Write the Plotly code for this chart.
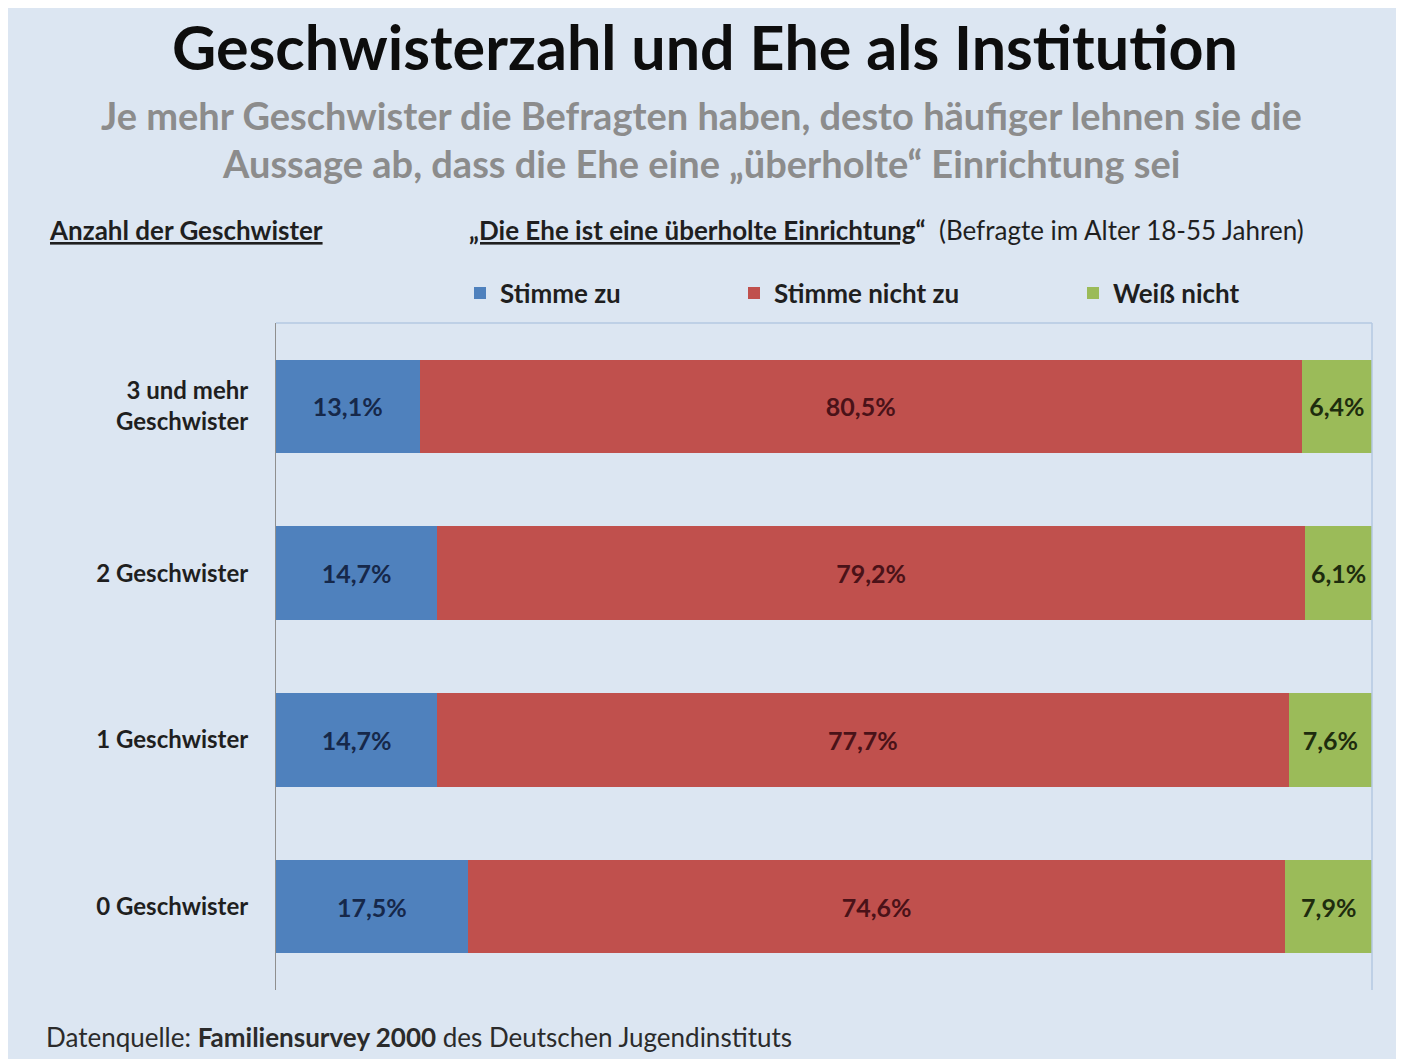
import plotly.graph_objects as go

categories = ["0 Geschwister", "1 Geschwister", "2 Geschwister", "3 und mehr<br>Geschwister"]
stimme_zu = [17.5, 14.7, 14.7, 13.1]
stimme_nicht_zu = [74.6, 77.7, 79.2, 80.5]
weiss_nicht = [7.9, 7.6, 6.1, 6.4]

series_names = ["Stimme zu", "Stimme nicht zu", "Weiß nicht"]
series_values = [stimme_zu, stimme_nicht_zu, weiss_nicht]
series_colors = ["#4f81bd", "#c0504d", "#9bbb59"]
label_colors = ["#16284a", "#4a1218", "#1e2c0e"]
legend_ids = ["legend", "legend2", "legend3"]

FONT = "Lato, 'Open Sans', sans-serif"
BG = "#dce6f2"

def fmt(v):
    return f"{v:.1f}".replace(".", ",") + "%"

fig = go.Figure()
for name, vals, col, lcol, lid in zip(series_names, series_values, series_colors, label_colors, legend_ids):
    fig.add_trace(go.Bar(
        y=categories, x=vals, name=name, orientation="h",
        marker=dict(color=col, line=dict(width=0)),
        text=[fmt(v) for v in vals], textposition="inside",
        insidetextanchor="middle",
        textfont=dict(family=FONT, size=25, color=lcol, weight="bold"),
        legend=lid,
    ))

# page offset (body margin) of the figure
OX, OY = 8, 8
W, H = 1392, 1051
L, R, T, B = 268, 28, 315, 69
pw, ph = W - L - R, H - T - B

def px_x(p):  # p in page pixels
    return (p - OX - L) / pw

def px_y(p):
    return 1 - (p - OY - T) / ph

leg_font = dict(family=FONT, size=26, color="#1f1f1f", weight="bold")
legend_common = dict(orientation="h", font=leg_font, bgcolor="rgba(0,0,0,0)",
                     xanchor="left", yanchor="middle", itemsizing="constant")

fig.update_layout(
    width=W, height=H,
    margin=dict(l=L, r=R, t=T, b=B),
    paper_bgcolor=BG,
    plot_bgcolor=BG,
    barmode="stack",
    bargap=0.44,
    showlegend=True,
    legend=dict(**legend_common, x=px_x(460), y=px_y(293)),
    legend2=dict(**legend_common, x=px_x(734), y=px_y(293)),
    legend3=dict(**legend_common, x=px_x(1073), y=px_y(293)),
    xaxis=dict(range=[0, 100], visible=False, fixedrange=True),
    yaxis=dict(
        range=[-0.5, 3.5], showgrid=False, zeroline=False,
        showline=True, linecolor="#8f8f8f", linewidth=1,
        ticks="", ticklabelstandoff=22,
        tickfont=dict(family=FONT, size=24, color="#1f1f1f", weight="bold"),
    ),
    font=dict(family=FONT),
)

# plot area frame (top and right)
fig.add_shape(type="line", xref="paper", yref="paper", x0=0, x1=1, y0=1, y1=1,
              line=dict(color="#b4c8e2", width=1.5))
fig.add_shape(type="line", xref="paper", yref="paper", x0=1, x1=1, y0=0, y1=1,
              line=dict(color="#b4c8e2", width=1.5))

def note(text, x, y, size, color, anchor="left"):
    return dict(text=text, x=px_x(x), y=px_y(y), xref="paper", yref="paper",
                xanchor=anchor, yanchor="middle", showarrow=False,
                font=dict(family=FONT, size=size, color=color))

ann = [
    note("<b>Geschwisterzahl und Ehe als Institution</b>", 705, 46, 61, "#0d0d0d", "center"),
    note("<b>Je mehr Geschwister die Befragten haben, desto häufiger lehnen sie die</b>", 701, 115, 38, "#8c8c8c", "center"),
    note("<b>Aussage ab, dass die Ehe eine „überholte“ Einrichtung sei</b>", 701, 163, 38, "#8c8c8c", "center"),
    note("<b><u>Anzahl der Geschwister</u></b>", 47, 230, 26, "#1f1f1f"),
    note("<b><u>„Die Ehe ist eine überholte Einrichtung</u>“</b>  (Befragte im Alter 18-55 Jahren)", 467, 230, 26, "#1f1f1f"),
    note("Datenquelle: <b>Familiensurvey 2000</b> des Deutschen Jugendinstituts", 44, 1037, 26, "#2b2b2b"),
]
fig.update_layout(annotations=ann)

fig.write_html("out.html")
